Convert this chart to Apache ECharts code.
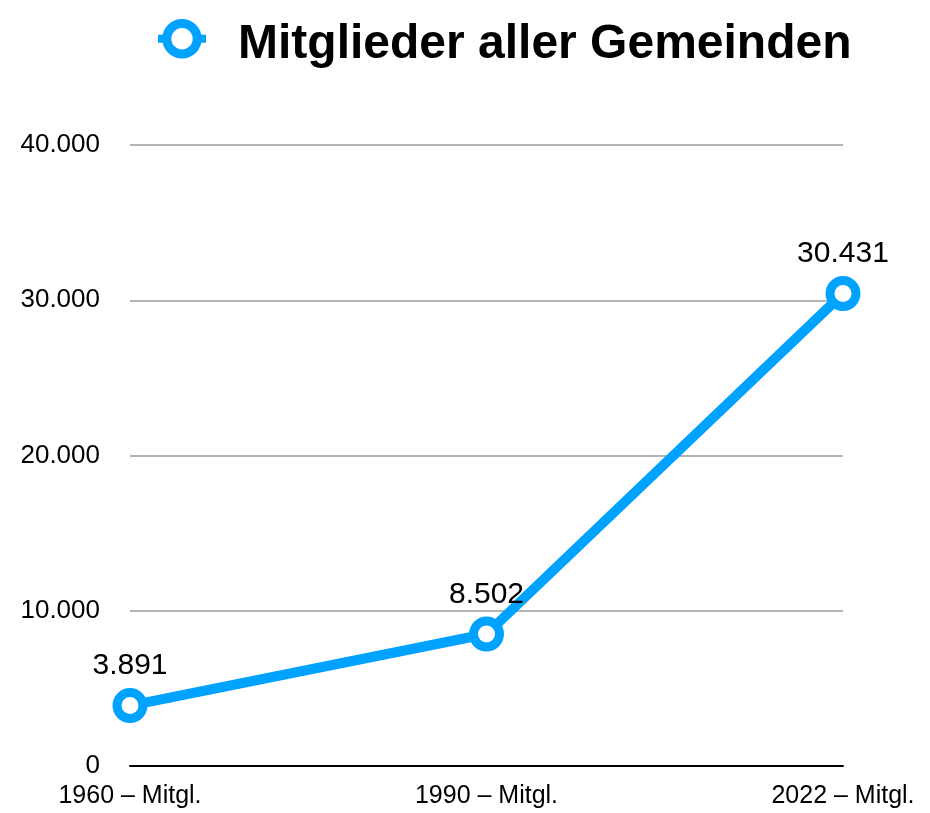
<!DOCTYPE html>
<html><head><meta charset="utf-8">
<script src="https://cdn.jsdelivr.net/npm/echarts@6/dist/echarts.min.js"></script>
<style>html,body{margin:0;padding:0;background:#fff}#c{width:930px;height:813px}</style>
</head><body><div id="c"></div>
<script>
const categories = ['1960 – Mitgl.', '1990 – Mitgl.', '2022 – Mitgl.'];
const seriesName = 'Mitglieder aller Gemeinden';
const values = [3891, 8502, 30431];
const yTicks = [0, 10000, 20000, 30000, 40000];

const fmt = v => String(v).replace(/\B(?=(\d{3})+(?!\d))/g, '.');
const font = '"Liberation Sans", Arial, Helvetica, sans-serif';
const chart = echarts.init(document.getElementById('c'));
chart.setOption({
  animation: false,
  legend: {
    data: [seriesName], top: 14, left: 149,
    itemWidth: 48, itemHeight: 38,
    itemStyle: { borderWidth: 9 },
    lineStyle: { width: 8 },
    formatter: name => '{t|' + name + '}',
    textStyle: {
      fontFamily: font, fontWeight: 'bold', fontSize: 48, color: '#000', padding: [0, 0, 0, 27],
      rich: { t: { fontFamily: font, fontWeight: 'bold', fontSize: 48, color: '#000', padding: [12, 0, 0, 0] } }
    }
  },
  grid: { left: 130, right: 87, top: 145, bottom: 47 },
  xAxis: {
    type: 'category', data: categories, boundaryGap: false,
    axisLine: { lineStyle: { color: '#000', width: 2 } },
    axisTick: { show: false },
    axisLabel: { fontFamily: font, fontSize: 25, color: '#000', margin: 18 }
  },
  yAxis: {
    type: 'value', min: yTicks[0], max: yTicks[yTicks.length - 1], interval: 10000,
    axisLine: { show: false }, axisTick: { show: false },
    splitLine: { lineStyle: { color: '#b4b4b4', width: 2 } },
    axisLabel: { fontFamily: font, fontSize: 26, color: '#000', margin: 30, formatter: fmt }
  },
  series: [{
    name: seriesName, type: 'line', data: values,
    lineStyle: { color: '#00a2ff', width: 10 },
    itemStyle: { color: '#fff', borderColor: '#00a2ff', borderWidth: 9 },
    symbol: 'circle', symbolSize: 26,
    label: { show: true, position: 'top', distance: 7, fontFamily: font, fontSize: 30, color: '#000', formatter: p => fmt(p.value) }
  }]
});
</script></body></html>
